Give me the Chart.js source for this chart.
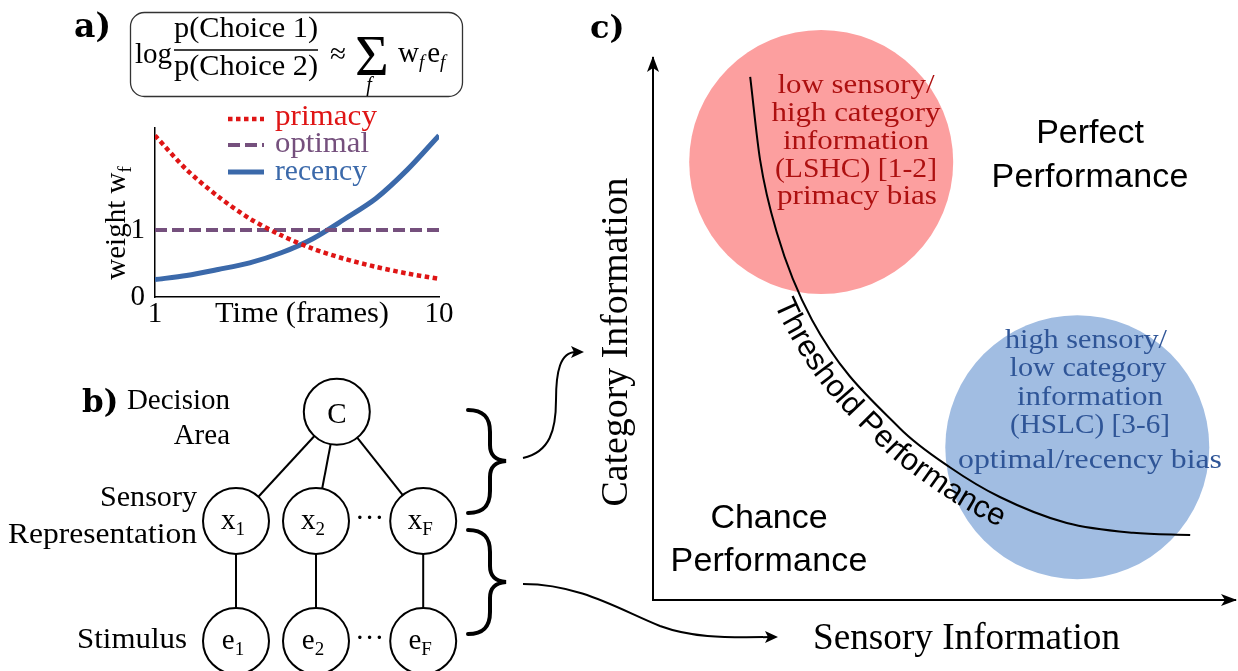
<!DOCTYPE html>
<html><head><meta charset="utf-8">
<script src="https://cdn.jsdelivr.net/npm/chart.js@4.4.1/dist/chart.umd.min.js"></script>
<style>
body{margin:0;background:#fff;}
#wrap{position:relative;width:1238px;height:671px;overflow:hidden;background:#fff;}
canvas{position:absolute;}
#ov{position:absolute;left:0;top:0;pointer-events:none;}
</style></head><body>
<div id="wrap">
<canvas id="A" width="360" height="240" style="left:100px;top:100px"></canvas>
<canvas id="B" width="320" height="301" style="left:150px;top:370px"></canvas>
<canvas id="C" width="678" height="671" style="left:560px;top:0px"></canvas>
<svg id="ov" width="1238" height="671" xmlns="http://www.w3.org/2000/svg">
<g font-family="Liberation Serif" fill="#000">
  <!-- panel letters -->
  <text x="74" y="37" font-family="DejaVu Serif" font-weight="bold" font-size="33">a)</text>
  <text x="82" y="412" font-family="DejaVu Serif" font-weight="bold" font-size="31">b)</text>
  <text x="590" y="38" font-family="DejaVu Serif" font-weight="bold" font-size="32">c)</text>
  <!-- formula -->
  <rect x="130.5" y="12.5" width="332" height="84" rx="14" fill="none" stroke="#333" stroke-width="1.3"/>
  <text x="135" y="63" font-size="29">log</text>
  <text x="246" y="37" font-size="29" text-anchor="middle" textLength="144" lengthAdjust="spacingAndGlyphs">p(Choice 1)</text>
  <line x1="174" y1="50" x2="318" y2="50" stroke="#000" stroke-width="1.3"/>
  <text x="246" y="75" font-size="29" text-anchor="middle" textLength="144" lengthAdjust="spacingAndGlyphs">p(Choice 2)</text>
  <text x="338" y="63" font-size="29" text-anchor="middle">≈</text>
  <text x="372" y="75" font-size="58" text-anchor="middle">Σ</text>
  <text x="369" y="91" font-size="20" font-style="italic" text-anchor="middle">f</text>
  <text x="398" y="62" font-size="29">w<tspan font-size="19" font-style="italic" dy="6">f</tspan><tspan dy="-6" dx="3">e</tspan><tspan font-size="19" font-style="italic" dy="6">f</tspan></text>
  <!-- legend a -->
  <line x1="228" y1="119" x2="264" y2="119" stroke="#df1515" stroke-width="4.5" stroke-dasharray="4.5 3.5"/>
  <text x="275" y="125" fill="#df1515" font-size="29" textLength="102" lengthAdjust="spacingAndGlyphs">primacy</text>
  <line x1="228" y1="145" x2="264" y2="145" stroke="#75507d" stroke-width="4" stroke-dasharray="12 5"/>
  <text x="275" y="152" fill="#75507d" font-size="29" textLength="94" lengthAdjust="spacingAndGlyphs">optimal</text>
  <line x1="228" y1="172" x2="264" y2="172" stroke="#3b69aa" stroke-width="5"/>
  <text x="275" y="180" fill="#3b69aa" font-size="29" textLength="92" lengthAdjust="spacingAndGlyphs">recency</text>
  <text transform="translate(125,223) rotate(-90)" font-size="29" text-anchor="middle">weight w<tspan font-size="19" dy="6">f</tspan></text>
  <text x="302" y="322" font-size="29" text-anchor="middle" textLength="174" lengthAdjust="spacingAndGlyphs">Time (frames)</text>
  <!-- panel b labels -->
  <text x="230" y="409" font-size="29" text-anchor="end">Decision</text>
  <text x="230" y="444" font-size="29" text-anchor="end">Area</text>
  <text x="197" y="506" font-size="29" text-anchor="end" textLength="97" lengthAdjust="spacingAndGlyphs">Sensory</text>
  <text x="197" y="543" font-size="29" text-anchor="end" textLength="189" lengthAdjust="spacingAndGlyphs">Representation</text>
  <text x="187" y="648" font-size="29" text-anchor="end" textLength="110" lengthAdjust="spacingAndGlyphs">Stimulus</text>
  <!-- braces & arrows -->
  <g fill="none" stroke="#000" stroke-width="4" stroke-linecap="round">
    <path d="M468,410 C484,410 490,418 490,432 L490,445 C490,455 495,460 506,461 C495,462 490,467 490,477 L490,491 C490,505 484,513 468,513"/>
    <path d="M468,530 C484,530 490,538 490,552 L490,566 C490,576 495,581 506,582 C495,583 490,588 490,598 L490,612 C490,626 484,634 468,634"/>
  </g>
  <g fill="none" stroke="#000" stroke-width="2">
    <path d="M523,458 C550,452 556,430 556,400 C556,372 560,352 576,352"/>
    <path d="M523,584 C580,584 620,610 660,626 C690,637 720,638 770,637"/>
  </g>
  <path d="M584,352 L571,346 L574,352 L571,358 Z" fill="#000"/>
  <path d="M778,637 L765,631 L768,637 L765,643 Z" fill="#000"/>
  <!-- panel c labels -->
  <g fill="#ad1010" font-size="27" text-anchor="middle">
    <text x="856" y="93" textLength="157" lengthAdjust="spacingAndGlyphs">low sensory/</text>
    <text x="856" y="121" textLength="169" lengthAdjust="spacingAndGlyphs">high category</text>
    <text x="856" y="149" textLength="146" lengthAdjust="spacingAndGlyphs">information</text>
    <text x="856" y="177" textLength="162" lengthAdjust="spacingAndGlyphs">(LSHC) [1-2]</text>
    <text x="857" y="204" textLength="160" lengthAdjust="spacingAndGlyphs">primacy bias</text>
  </g>
  <g fill="#2f5597" font-size="27" text-anchor="middle">
    <text x="1086" y="348" textLength="162" lengthAdjust="spacingAndGlyphs">high sensory/</text>
    <text x="1088" y="376" textLength="157" lengthAdjust="spacingAndGlyphs">low category</text>
    <text x="1090" y="405" textLength="146" lengthAdjust="spacingAndGlyphs">information</text>
    <text x="1090" y="433" textLength="160" lengthAdjust="spacingAndGlyphs">(HSLC) [3-6]</text>
    <text x="1090" y="468" textLength="264" lengthAdjust="spacingAndGlyphs">optimal/recency bias</text>
  </g>
  <g font-family="Liberation Sans" font-size="34" text-anchor="middle">
    <text x="1090" y="143">Perfect</text>
    <text x="1090" y="187" textLength="197">Performance</text>
    <text x="769" y="528">Chance</text>
    <text x="769" y="571" textLength="197">Performance</text>
  </g>
  <text x="813" y="649" font-size="38" textLength="307" lengthAdjust="spacingAndGlyphs">Sensory Information</text>
  <text transform="translate(627,342) rotate(-90)" font-size="38" text-anchor="middle" textLength="329" lengthAdjust="spacingAndGlyphs">Category Information</text>
  <g id="dyn" font-size="29"></g>
</g>
</svg>
</div>
<script>
// ---------- data ----------
const frames = [1, 2, 3, 4, 5, 6, 7, 8, 9, 10];
const primacy = [2.41, 1.90, 1.50, 1.17, 0.92, 0.72, 0.57, 0.45, 0.35, 0.27];
const optimal = [1, 1, 1, 1, 1, 1, 1, 1, 1, 1];
const recency = [0.26, 0.32, 0.41, 0.51, 0.66, 0.87, 1.16, 1.47, 1.90, 2.41];
const weightTicks = [0, 1];
const frameTicks = [1, 10];

const nodeNames = ['C', 'x', 'x', 'x', 'e', 'e', 'e'];
const nodeSubs = ['', '1', '2', 'F', '1', '2', 'F'];
const nodeCol = [1.26, 0, 1, 2.34, 0, 1, 2.34];
const nodeLevel = [1.91, 1, 1, 1, 0, 0, 0];
const edges = [[0, 1], [0, 2], [0, 3], [1, 4], [2, 5], [3, 6]];

const thresholdX = [1.67, 1.84, 2.13, 2.73, 4.24, 5.10, 5.96, 7.11, 8.25, 9.23];
const thresholdY = [9.65, 8.12, 6.77, 5.17, 3.17, 2.45, 1.90, 1.42, 1.24, 1.20];
const regionNames = ['LSHC', 'HSLC'];
const regionX = [2.89, 7.29];
const regionY = [8.08, 2.82];

// ---------- styles ----------
const RED = '#df1515', PURPLE = '#75507d', BLUE = '#3b69aa';
Chart.defaults.font.family = 'Liberation Serif';
Chart.defaults.color = '#000';
const tickFont = {family: 'Liberation Serif', size: 29};

// ---------- panel a ----------
const xy = (xs, ys) => xs.map((x, i) => ({x: x, y: ys[i]}));
const chartA = new Chart(document.getElementById('A'), {
  type: 'line',
  data: {datasets: [
    {label: 'primacy', data: xy(frames, primacy), borderColor: RED, borderWidth: 4.5, borderDash: [4.5, 3.5], pointRadius: 0, tension: 0.3},
    {label: 'optimal', data: xy(frames, optimal), borderColor: PURPLE, borderWidth: 4, borderDash: [12, 5], pointRadius: 0},
    {label: 'recency', data: xy(frames, recency), borderColor: BLUE, borderWidth: 5, pointRadius: 0, tension: 0.3}
  ]},
  options: {
    responsive: false, animation: false, events: [],
    plugins: {legend: {display: false}, tooltip: {enabled: false}},
    layout: {autoPadding: false, padding: {top: 20, right: 21, left: 0, bottom: 0}},
    scales: {
      x: {type: 'linear', min: 1, max: 10,
        afterBuildTicks: s => { s.ticks = frameTicks.map(v => ({value: v})); },
        afterFit: s => { s.height = 43; },
        grid: {display: false, drawTicks: false},
        border: {display: true, color: '#000', width: 1.5},
        ticks: {font: tickFont, color: '#000', padding: 0, maxRotation: 0, autoSkip: false}},
      y: {min: 0, max: 2.53,
        afterBuildTicks: s => { s.ticks = weightTicks.map(v => ({value: v})); },
        afterFit: s => { s.width = 55; },
        grid: {display: false, drawTicks: false},
        border: {display: true, color: '#000', width: 1.5},
        ticks: {font: tickFont, color: '#000', padding: 10}}
    }
  }
});

// ---------- panel b ----------
const chartB = new Chart(document.getElementById('B'), {
  type: 'scatter',
  data: {datasets: [
    {label: 'nodes', data: xy(nodeCol, nodeLevel), pointRadius: 33, pointBackgroundColor: '#fff',
     pointBorderColor: '#000', pointBorderWidth: 2, showLine: false, order: 0, clip: false}
  ].concat(edges.map(([a, b]) => ({
     type: 'line', label: 'edge', data: [{x: nodeCol[a], y: nodeLevel[a]}, {x: nodeCol[b], y: nodeLevel[b]}],
     borderColor: '#000', borderWidth: 2, pointRadius: 0, order: 1, clip: false})))},
  options: {
    responsive: false, animation: false, events: [],
    plugins: {legend: {display: false}, tooltip: {enabled: false}},
    layout: {autoPadding: false, padding: 0},
    scales: {
      x: {display: false, min: -1.075, max: 2.925},
      y: {display: false, min: -0.25, max: 2.258}
    }
  }
});

// ---------- panel c ----------
const axisArrows = {
  id: 'axisArrows',
  afterDraw(c) {
    const {ctx, chartArea: a} = c;
    ctx.save();
    ctx.fillStyle = '#000';
    ctx.beginPath();
    ctx.moveTo(a.left, a.top - 2); ctx.lineTo(a.left - 6, a.top + 14);
    ctx.lineTo(a.left, a.top + 10); ctx.lineTo(a.left + 6, a.top + 14); ctx.closePath(); ctx.fill();
    ctx.beginPath();
    ctx.moveTo(a.right + 2, a.bottom); ctx.lineTo(a.right - 14, a.bottom - 6);
    ctx.lineTo(a.right - 10, a.bottom); ctx.lineTo(a.right - 14, a.bottom + 6); ctx.closePath(); ctx.fill();
    ctx.restore();
  }
};
const chartC = new Chart(document.getElementById('C'), {
  type: 'scatter',
  data: {datasets: [
    {label: 'regions', data: xy(regionX, regionY), pointRadius: 132,
     pointBackgroundColor: ['#fc9f9f', '#a1bde2'], pointBorderWidth: 0, showLine: false, order: 2, clip: false},
    {type: 'line', label: 'threshold', data: xy(thresholdX, thresholdY), borderColor: '#000', borderWidth: 2,
     pointRadius: 0, cubicInterpolationMode: 'monotone', order: 0, clip: false}
  ]},
  options: {
    responsive: false, animation: false, events: [],
    plugins: {legend: {display: false}, tooltip: {enabled: false}},
    layout: {autoPadding: false, padding: {left: 93, right: 3, top: 58, bottom: 71}},
    scales: {
      x: {min: 0, max: 10, ticks: {display: false}, grid: {display: false, drawTicks: false},
          border: {display: true, color: '#000', width: 2}, afterFit: s => { s.height = 0; }},
      y: {min: 0, max: 10, ticks: {display: false}, grid: {display: false, drawTicks: false},
          border: {display: true, color: '#000', width: 2}, afterFit: s => { s.width = 0; }}
    }
  },
  plugins: [axisArrows]
});

// ---------- overlay text derived from the charts ----------
const NS = 'http://www.w3.org/2000/svg';
const dyn = document.getElementById('dyn');
function el(tag, attrs, parent) {
  const e = document.createElementNS(NS, tag);
  for (const k in attrs) e.setAttribute(k, attrs[k]);
  (parent || dyn).appendChild(e);
  return e;
}
const bx = chartB.scales.x, by = chartB.scales.y;
const offB = {x: 150, y: 370};
nodeNames.forEach((n, i) => {
  const px = offB.x + bx.getPixelForValue(nodeCol[i]);
  const py = offB.y + by.getPixelForValue(nodeLevel[i]);
  const t = el('text', {x: px - (nodeSubs[i] ? 3 : 0), y: py + (nodeSubs[i] ? 8 : 11), 'text-anchor': 'middle'});
  t.appendChild(document.createTextNode(n));
  if (nodeSubs[i]) {
    const s = el('tspan', {'font-size': 19, dy: 6}, t);
    s.textContent = nodeSubs[i];
  }
});
[[2, 3], [5, 6]].forEach(([a, b]) => {
  const px = offB.x + bx.getPixelForValue((nodeCol[a] + nodeCol[b]) / 2);
  const py = offB.y + by.getPixelForValue(nodeLevel[a]);
  const t = el('text', {x: px, y: py + 6, 'text-anchor': 'middle', 'font-size': 29});
  t.textContent = '···';
});
const meta = chartC.getDatasetMeta(1);
const P = meta.data;
const offC = {x: 560, y: 0};
const D = 27;
const samp = [];
for (let i = 0; i < P.length - 1; i++) {
  const p0 = P[i], p1 = P[i + 1];
  const c1x = p0.cp2x, c1y = p0.cp2y, c2x = p1.cp1x, c2y = p1.cp1y;
  for (let k = 0; k < 24; k++) {
    const t = k / 24, u = 1 - t;
    const x = u*u*u*p0.x + 3*u*u*t*c1x + 3*u*t*t*c2x + t*t*t*p1.x;
    const y = u*u*u*p0.y + 3*u*u*t*c1y + 3*u*t*t*c2y + t*t*t*p1.y;
    let dx = 3*u*u*(c1x - p0.x) + 6*u*t*(c2x - c1x) + 3*t*t*(p1.x - c2x);
    let dy = 3*u*u*(c1y - p0.y) + 6*u*t*(c2y - c1y) + 3*t*t*(p1.y - c2y);
    const L = Math.hypot(dx, dy) || 1; dx /= L; dy /= L;
    samp.push([offC.x + x - dy * D, offC.y + y + dx * D]);
  }
}
const d = 'M' + samp.map(p => p[0].toFixed(1) + ',' + p[1].toFixed(1)).join(' L');
const defs = el('defs', {}, document.getElementById('ov'));
el('path', {id: 'tp', d: d}, defs);
const target = [997, 531];
let bestD = 1e9, acc = 0, accAt = 0;
for (let i = 0; i < samp.length; i++) {
  if (i > 0) acc += Math.hypot(samp[i][0] - samp[i-1][0], samp[i][1] - samp[i-1][1]);
  const dd = Math.hypot(samp[i][0] - target[0], samp[i][1] - target[1]);
  if (dd < bestD) { bestD = dd; accAt = acc; }
}
const tt = el('text', {'font-family': 'Liberation Sans', 'font-size': 31, 'text-anchor': 'end'});
const tpath = el('textPath', {href: '#tp', startOffset: accAt.toFixed(1)}, tt);
tpath.textContent = 'Threshold Performance';
</script>
</body></html>
